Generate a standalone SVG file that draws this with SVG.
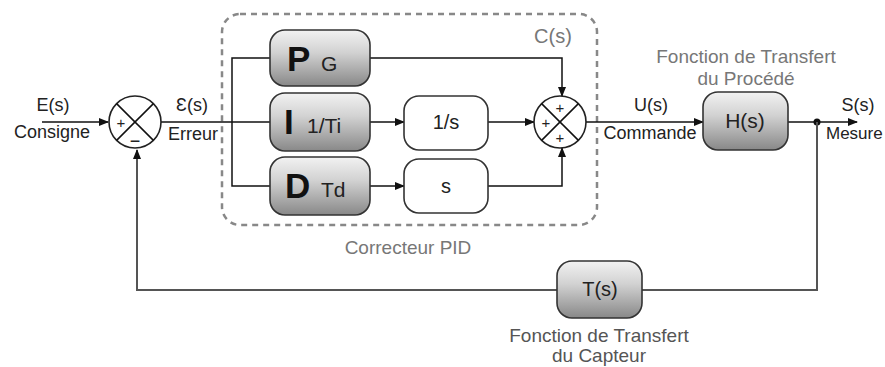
<svg xmlns="http://www.w3.org/2000/svg" width="885" height="367" viewBox="0 0 885 367">
<defs>
<linearGradient id="g" x1="0" y1="0" x2="0" y2="1">
<stop offset="0" stop-color="#f2f2f2"/>
<stop offset="0.4" stop-color="#d2d2d2"/>
<stop offset="1" stop-color="#888"/>
</linearGradient>
<marker id="a" markerWidth="10" markerHeight="8" refX="9" refY="4" orient="auto" markerUnits="userSpaceOnUse">
<path d="M0,0 L10,4 L0,8 Z" fill="#111"/>
</marker>
</defs>
<style>
text{font-family:"Liberation Sans",Arial,sans-serif;fill:#222;font-size:18px}
.gray{fill:#777}
.dg{fill:#555}
.s15{font-size:15px}
.s17{font-size:17px}
.s19{font-size:19px}
.s20{font-size:20px}
.s21{font-size:21px}
.big{font-size:35px;font-weight:bold;fill:#111}
.blk{fill:url(#g);stroke:#333;stroke-width:1.6}
.wb{fill:#fff;stroke:#333;stroke-width:1.6}
.ln{fill:none;stroke:#111;stroke-width:1.5}
.fb{fill:none;stroke:#555;stroke-width:2}
.sum{fill:#fff;stroke:#222;stroke-width:1.6}
.c{text-anchor:middle}
</style>
<rect x="222" y="14" width="375" height="211" rx="18" fill="none" stroke="#888" stroke-width="2.5" stroke-dasharray="6,5"/>
<text x="553" y="43" class="gray c s20">C(s)</text>
<text x="408" y="254" class="gray c s19">Correcteur PID</text>
<g id="connectors">
<line x1="42" y1="122" x2="108" y2="122" class="ln" marker-end="url(#a)"/>
<line x1="161" y1="122" x2="270" y2="122" class="ln"/>
<polyline points="270,58 232,58 232,186 270,186" class="ln"/>
<line x1="370" y1="122" x2="404" y2="122" class="ln" marker-end="url(#a)"/>
<line x1="370" y1="186" x2="404" y2="186" class="ln" marker-end="url(#a)"/>
<line x1="488" y1="122" x2="534" y2="122" class="ln" marker-end="url(#a)"/>
<polyline points="370,58 562,58 562,96" class="ln" marker-end="url(#a)"/>
<polyline points="488,186 562,186 562,148" class="ln" marker-end="url(#a)"/>
<line x1="586" y1="122" x2="703" y2="122" class="ln" marker-end="url(#a)"/>
<line x1="788" y1="122" x2="857" y2="122" class="ln" marker-end="url(#a)"/>
<circle cx="817" cy="122" r="3.5" fill="#111"/>
<polyline points="817,122 817,290 642,290" class="fb"/>
<polyline points="557,290 137,290 137,150" class="fb" marker-end="url(#a)"/>
</g>
<g id="sum1">
<circle cx="135" cy="122" r="26" class="sum"/>
<line x1="116.6" y1="103.6" x2="153.4" y2="140.4" class="ln"/>
<line x1="153.4" y1="103.6" x2="116.6" y2="140.4" class="ln"/>
<text x="121" y="128" class="c s15">+</text>
<text x="135" y="147" class="c">−</text>
</g>
<g id="sum2">
<circle cx="560" cy="122" r="26" class="sum"/>
<line x1="541.6" y1="103.6" x2="578.4" y2="140.4" class="ln"/>
<line x1="578.4" y1="103.6" x2="541.6" y2="140.4" class="ln"/>
<text x="560" y="113" class="c s15">+</text>
<text x="546" y="128" class="c s15">+</text>
<text x="560" y="143" class="c s15">+</text>
</g>
<g id="P">
<rect x="270" y="30" width="100" height="56" rx="15" class="blk"/>
<text x="287" y="71" class="big">P</text>
<text x="321" y="71" class="s21">G</text>
</g>
<g id="I">
<rect x="270" y="93" width="100" height="58" rx="15" class="blk"/>
<text x="284" y="134" class="big">I</text>
<text x="307" y="133" class="s21">1/Ti</text>
</g>
<g id="D">
<rect x="270" y="157" width="100" height="58" rx="15" class="blk"/>
<text x="285" y="198" class="big">D</text>
<text x="321" y="197" class="s21">Td</text>
</g>
<g id="integ">
<rect x="404" y="96" width="84" height="54" rx="15" class="wb"/>
<text x="446" y="129" class="c s20">1/s</text>
</g>
<g id="deriv">
<rect x="404" y="159" width="84" height="54" rx="15" class="wb"/>
<text x="446" y="193" class="c s20">s</text>
</g>
<g id="H">
<rect x="703" y="92" width="85" height="58" rx="15" class="blk"/>
<text x="745" y="128" class="c s21">H(s)</text>
</g>
<g id="T">
<rect x="557" y="261" width="85" height="57" rx="15" class="blk"/>
<text x="600" y="296" class="c s20">T(s)</text>
</g>
<g id="labels">
<text x="53" y="111" class="c">E(s)</text>
<text x="52" y="138" class="c">Consigne</text>
<text x="192" y="111" class="c">Ɛ(s)</text>
<text x="193" y="140" class="c">Erreur</text>
<text x="651" y="111" class="c">U(s)</text>
<text x="650" y="139" class="c">Commande</text>
<text x="746" y="63" class="c gray s19">Fonction de Transfert</text>
<text x="746" y="85" class="c gray s19">du Procédé</text>
<text x="858" y="111" class="c">S(s)</text>
<text x="826" y="139" class="s17">Mesure</text>
<text x="599" y="342" class="c dg s19">Fonction de Transfert</text>
<text x="599" y="362" class="c dg s19">du Capteur</text>
</g>
</svg>
